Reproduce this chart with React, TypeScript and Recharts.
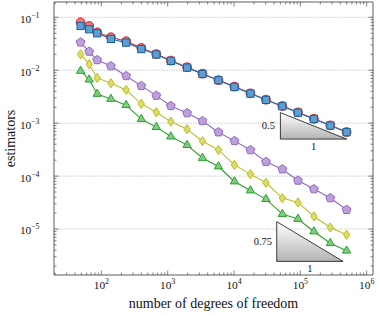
import React from 'react';
import { ScatterChart, Scatter, XAxis, YAxis, ReferenceLine } from 'recharts';

// degrees of freedom (shared by every estimator)
const dofs = [48.6, 65.5, 86.4, 139, 236, 400, 673, 1114, 1960, 3342, 5820, 10140, 17660, 30300, 53500, 92000, 160000, 283000, 498000];

const estRed = [0.0805, 0.0686, 0.0521, 0.042, 0.0353, 0.0264, 0.0202, 0.0152, 0.0114, 0.0086, 0.0065, 0.0049, 0.00366, 0.00278, 0.00211, 0.0016, 0.00121, 0.00091, 0.00068];
const estBlue = [0.0686, 0.0594, 0.0499, 0.039, 0.0332, 0.0251, 0.0198, 0.015, 0.0112, 0.00851, 0.00647, 0.00484, 0.00362, 0.00275, 0.00209, 0.00158, 0.0012, 0.000901, 0.000676];
const estPurple = [0.0337, 0.0225, 0.0156, 0.012, 0.0078, 0.00506, 0.00332, 0.00212, 0.00155, 0.0011, 0.000676, 0.000463, 0.000311, 0.000186, 0.000135, 0.0000826, 0.0000569, 0.0000385, 0.0000231];
const estYellow = [0.02, 0.013, 0.00716, 0.00569, 0.00425, 0.00231, 0.00161, 0.00107, 0.00077, 0.000457, 0.000313, 0.000163, 0.000109, 0.0000748, 0.0000385, 0.0000318, 0.0000173, 0.0000107, 0.0000078];
const estGreen = [0.0097, 0.00665, 0.00357, 0.00287, 0.00219, 0.00119, 0.000841, 0.000558, 0.000385, 0.00022, 0.000152, 0.0000791, 0.0000535, 0.0000368, 0.0000192, 0.0000155, 0.000009, 0.0000054, 0.0000039];

// slope triangles: [bottom-left, bottom-right, top-left]
const slopeTriA = [{ x: 5e4, y: 5e-4 }, { x: 5e5, y: 5e-4 }, { x: 5e4, y: 1.58e-3 }];
const slopeTriB = [{ x: 4.4e4, y: 2.45e-6 }, { x: 4.4e5, y: 2.45e-6 }, { x: 4.4e4, y: 1.38e-5 }];
const slopeLabelsA = ['0.5', '1'];
const slopeLabelsB = ['0.75', '1'];

const yMajor = [1e-5, 1e-4, 1e-3, 1e-2, 1e-1];
const xDomain = [19.3, 1.245e6];
const yDomain = [1.355e-6, 0.1945];

const FONT = '"Liberation Serif", "Times New Roman", serif';
const AXIS = '#333';

function logTicks(lo: number, hi: number) {
  const out: number[] = [];
  for (let e = Math.floor(Math.log10(lo)); e <= Math.ceil(Math.log10(hi)); e++) {
    for (let m = 1; m <= 9; m++) {
      const v = Number((m * Math.pow(10, e)).toPrecision(6));
      if (v >= lo && v <= hi) out.push(v);
    }
  }
  return out;
}
const xTicks = logTicks(xDomain[0], xDomain[1]);
const yTicks = logTicks(yDomain[0], yDomain[1]);

const isMajor = (v: number) => Math.abs(Math.log10(v) - Math.round(Math.log10(v))) < 1e-6;

const toPoints = (ys: number[]) => ys.map((y, i) => ({ x: dofs[i], y }));

function Pow({ x, y, exp, anchor }: { x: number; y: number; exp: number; anchor: 'start' | 'middle' | 'end' }) {
  const sup = exp < 0 ? '\u2212' + String(-exp) : String(exp);
  return (
    <text x={x} y={y} textAnchor={anchor} fontFamily={FONT} fill="#111">
      <tspan fontSize={11.3}>10</tspan>
      <tspan fontSize={7.8} dy={-5}>{sup}</tspan>
    </text>
  );
}

function makeTick(side: 'bottom' | 'top' | 'left' | 'right') {
  return (props: any) => {
    const { x, y, payload } = props;
    const v = payload.value;
    const major = isMajor(v);
    const len = major ? 4.5 : 2.5;
    const exp = Math.round(Math.log10(v));
    if (side === 'bottom') {
      return (
        <g>
          <line x1={x} x2={x} y1={y} y2={y - len} stroke={AXIS} strokeWidth={0.6} />
          {major && <Pow x={x} y={y + 14.3} exp={exp} anchor="middle" />}
        </g>
      );
    }
    if (side === 'top') {
      return <line x1={x} x2={x} y1={y} y2={y + len} stroke={AXIS} strokeWidth={0.6} />;
    }
    if (side === 'left') {
      return (
        <g>
          <line x1={x} x2={x + len} y1={y} y2={y} stroke={AXIS} strokeWidth={0.6} />
          {major && <Pow x={x - 14.5} y={y + 5.4} exp={exp} anchor="end" />}
        </g>
      );
    }
    return <line x1={x} x2={x - len} y1={y} y2={y} stroke={AXIS} strokeWidth={0.6} />;
  };
}

type Kind = 'circle' | 'square' | 'pentagon' | 'diamond' | 'triangle';

function polygonPath(cx: number, cy: number, r: number, n: number) {
  const pts: string[] = [];
  for (let i = 0; i < n; i++) {
    const a = -Math.PI / 2 + (i * 2 * Math.PI) / n;
    pts.push(`${cx + r * Math.cos(a)},${cy + r * Math.sin(a)}`);
  }
  return pts.join(' ');
}

function makeMarker(kind: Kind, fill: string, stroke: string) {
  return (props: any) => {
    const { cx, cy } = props;
    if (cx == null || cy == null) return <g />;
    const common = { fill, stroke, strokeWidth: 1 };
    if (kind === 'circle') return <circle cx={cx} cy={cy} r={4.4} {...common} />;
    if (kind === 'square') return <rect x={cx - 3.6} y={cy - 3.6} width={7.2} height={7.2} {...common} />;
    if (kind === 'pentagon') return <polygon points={polygonPath(cx, cy, 4.6, 5)} {...common} />;
    if (kind === 'triangle') return <polygon points={polygonPath(cx, cy, 4.8, 3)} {...common} />;
    return <polygon points={`${cx},${cy - 4.6} ${cx + 3.2},${cy} ${cx},${cy + 4.6} ${cx - 3.2},${cy}`} {...common} />;
  };
}

function makeSlope(labels: string[], gap: number) {
  return (props: any) => {
    const pts: { x: number; y: number }[] = props.points || [];
    if (pts.length < 3) return <g />;
    const [bl, br, tl] = pts;
    return (
      <g>
        <defs>
          <linearGradient id={`slope-${labels[0]}`} x1="0" y1="0" x2="0" y2="1">
            <stop offset="0%" stopColor="#ffffff" />
            <stop offset="100%" stopColor="#b4b4b4" />
          </linearGradient>
        </defs>
        <polygon
          points={pts.map((p) => `${p.x},${p.y}`).join(' ')}
          fill={`url(#slope-${labels[0]})`}
          stroke="#111"
          strokeWidth={0.8}
        />
        <text x={bl.x - gap} y={(bl.y + tl.y) / 2 + 3.6} textAnchor="end" fontFamily={FONT} fontSize={10.5} fill="#111">
          {labels[0]}
        </text>
        <text x={(bl.x + br.x) / 2} y={bl.y + 11} textAnchor="middle" fontFamily={FONT} fontSize={10.5} fill="#111">
          {labels[1]}
        </text>
      </g>
    );
  };
}

const series = [
  { name: 'red', data: estRed, kind: 'circle' as Kind, line: '#d62728', fill: '#e8777b', stroke: '#d62728' },
  { name: 'blue', data: estBlue, kind: 'square' as Kind, line: '#1f77b4', fill: '#5c9fd3', stroke: '#1f5f97' },
  { name: 'purple', data: estPurple, kind: 'pentagon' as Kind, line: '#9467bd', fill: '#bba0dc', stroke: '#9467bd' },
  { name: 'yellow', data: estYellow, kind: 'diamond' as Kind, line: '#bcbd22', fill: '#dcdc66', stroke: '#bcbd22' },
  { name: 'green', data: estGreen, kind: 'triangle' as Kind, line: '#2ca02c', fill: '#80cc80', stroke: '#2ca02c' },
];

const axisCommon = {
  type: 'number' as const,
  scale: 'log' as const,
  allowDataOverflow: true,
  interval: 0,
  tickSize: 0,
  tickMargin: 0,
  tickLine: false,
  axisLine: { stroke: AXIS, strokeWidth: 0.8 },
};

export default function App() {
  return (
    <div style={{ position: 'absolute', left: 0, top: 0, background: '#fff' }}>
      <ScatterChart width={380} height={316} margin={{ top: 1, right: 6, bottom: 0, left: 0 }}>
        <XAxis
          {...axisCommon}
          xAxisId="b"
          dataKey="x"
          domain={xDomain}
          ticks={xTicks}
          tick={makeTick('bottom')}
          height={41}
          label={{ value: 'number of degrees of freedom', position: 'insideBottom', offset: 8, fontFamily: FONT, fontSize: 14, fill: '#111' }}
        />
        <XAxis {...axisCommon} xAxisId="t" dataKey="x" orientation="top" domain={xDomain} ticks={xTicks} tick={makeTick('top')} height={1} />
        <YAxis
          {...axisCommon}
          yAxisId="l"
          dataKey="y"
          domain={yDomain}
          ticks={yTicks}
          tick={makeTick('left')}
          width={54}
          label={{ value: 'estimators', angle: -90, position: 'insideLeft', offset: 10, fontFamily: FONT, fontSize: 14, fill: '#111', style: { textAnchor: 'middle' } }}
        />
        <YAxis {...axisCommon} yAxisId="r" dataKey="y" orientation="right" domain={yDomain} ticks={yTicks} tick={makeTick('right')} width={1} />
        {yMajor.map((v) => (
          <ReferenceLine key={v} xAxisId="b" yAxisId="l" y={v} stroke="#9a9a9a" strokeWidth={0.7} strokeDasharray="1 1.4" />
        ))}
        <Scatter
          xAxisId="t"
          yAxisId="r"
          data={slopeTriA}
          line={makeSlope(slopeLabelsA, 5.5)}
          lineType="joint"
          shape={() => <g />}
          isAnimationActive={false}
        />
        <Scatter
          xAxisId="t"
          yAxisId="r"
          data={slopeTriB}
          line={makeSlope(slopeLabelsB, 4.7)}
          lineType="joint"
          shape={() => <g />}
          isAnimationActive={false}
        />
        {series.map((s) => (
          <Scatter
            key={s.name}
            xAxisId="b"
            yAxisId="l"
            data={toPoints(s.data)}
            line={{ stroke: s.line, strokeWidth: 1.1 }}
            lineType="joint"
            shape={makeMarker(s.kind, s.fill, s.stroke)}
            isAnimationActive={false}
          />
        ))}
      </ScatterChart>
    </div>
  );
}
